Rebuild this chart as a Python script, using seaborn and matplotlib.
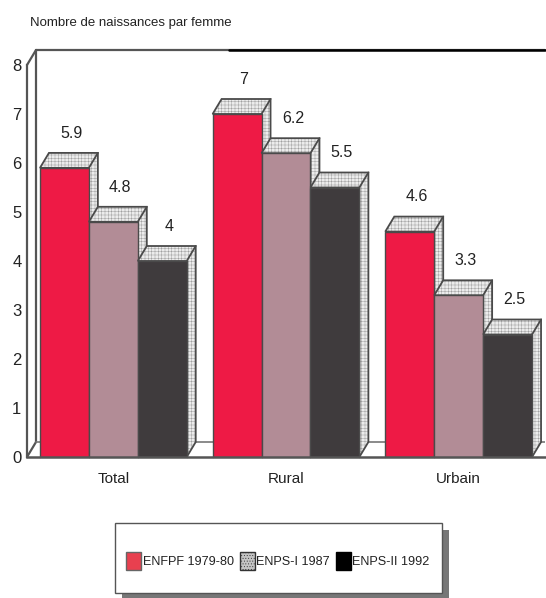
import matplotlib
matplotlib.use("Agg")
import matplotlib.pyplot as plt
from matplotlib.patches import Patch, Polygon, Rectangle
import pandas as pd
import seaborn as sns

# ========= Data =========
categories = ["Total", "Rural", "Urbain"]
surveys = ["ENFPF 1979-80", "ENPS-I 1987", "ENPS-II 1992"]
enfpf = [5.9, 7, 4.6]
enps1 = [4.8, 6.2, 3.3]
enps2 = [4, 5.5, 2.5]
value_labels = ["5.9", "4.8", "4", "7", "6.2", "5.5", "4.6", "3.3", "2.5"]
bar_colors = ["#ee1a45", "#b28c96", "#3f3b3d"]
legend_colors = ["#e8404f", "#c4c4c4", "#000000"]
y_ticks = list(range(9))

df = pd.DataFrame({
    "cat": categories * 3,
    "survey": [s for s in surveys for _ in categories],
    "val": enfpf + enps1 + enps2,
})

sns.set_style("white")
plt.rcParams["font.family"] = ["Liberation Sans", "DejaVu Sans"]
plt.rcParams["hatch.linewidth"] = 0.35

W, H = 546, 598
fig = plt.figure(figsize=(W / 100, H / 100), dpi=100)
ax = fig.add_axes([27 / W, (H - 457) / H, 518 / W, 392 / H])

sns.barplot(data=df, x="cat", y="val", hue="survey", order=categories,
            hue_order=surveys, palette=bar_colors, saturation=1,
            width=0.85, gap=0, legend=False, ax=ax)
ax.set_xlim(-0.5, 2.5)
ax.set_ylim(0, 8)
ax.set_xlabel("")
ax.set_ylabel("")
sns.despine(ax=ax, top=True, right=True)

# depth of the fake 3D effect, in data units
dx = 9 / (518 / 3)
dy = 15 / 49
edge = "#4a4a4a"
hatch_col = "#a0a0a0"

# ========= Walls =========
left = -0.5
wall = dict(color="#555555", lw=1.6, clip_on=False, zorder=1)
ax.plot([left, left + dx], [8, 8 + dy], **wall)
ax.plot([left + dx, left + dx], [dy, 8 + dy], **wall)
ax.plot([left, left + dx], [0, dy], **wall)
ax.plot([left + dx, 2.5], [8 + dy, 8 + dy], **wall)
ax.plot([0.67, 2.5], [8 + dy, 8 + dy], color="black", lw=1.8, clip_on=False, zorder=1)
ax.plot([left + dx, 2.5], [dy, dy], color="#777777", lw=1.2, zorder=1)
ax.spines["left"].set(color="#555555", linewidth=1.6)
ax.spines["bottom"].set(color="#555555", linewidth=1.8)
ax.spines["bottom"].set_zorder(60)

# ========= 3D faces and value labels =========
bars = sorted(ax.patches, key=lambda b: b.get_x())
for i, (bar, label) in enumerate(zip(bars, value_labels)):
    x0, w, h = bar.get_x(), bar.get_width(), bar.get_height()
    z = 5 + i * 3
    bar.set_zorder(z + 2)
    bar.set_edgecolor("none")
    top = Polygon([(x0, h), (x0 + dx, h + dy), (x0 + w + dx, h + dy), (x0 + w, h)],
                  facecolor="#ececec", edgecolor=hatch_col, hatch="+++++", lw=0, zorder=z, clip_on=False)
    side = Polygon([(x0 + w, 0), (x0 + w + dx, dy), (x0 + w + dx, h + dy), (x0 + w, h)],
                   facecolor="#ececec", edgecolor=hatch_col, hatch="+++++", lw=0, zorder=z, clip_on=False)
    ax.add_patch(top)
    ax.add_patch(side)
    ax.add_patch(Polygon([(x0, h), (x0 + dx, h + dy), (x0 + w + dx, h + dy), (x0 + w + dx, dy),
                          (x0 + w, 0), (x0 + w, h), (x0, h)],
                         fill=False, edgecolor=edge, lw=1.3, zorder=z + 1, clip_on=False))
    ax.plot([x0 + w, x0 + w + dx], [h, h + dy], color=edge, lw=1.3, zorder=z + 1, clip_on=False)
    ax.plot([x0, x0, x0 + w, x0 + w], [0, h, h, 0], color=edge, lw=1.0, zorder=z + 3, clip_on=False)
    ax.text(x0 + w / 2 + dx - 0.012, h + dy + 0.25, label, ha="center", va="bottom",
            fontsize=11.5, color="#222222", zorder=50)

# ========= Axes text =========
ax.set_yticks(y_ticks)
ax.tick_params(axis="y", length=0, pad=4, labelsize=12, colors="#222222")
ax.tick_params(axis="x", length=0, pad=11, labelsize=11, colors="#222222")
fig.text(30 / W, 1 - 23 / H, "Nombre de naissances par femme", fontsize=9.5,
         color="#222222", va="center", ha="left")

# ========= Legend =========
fig.add_artist(Rectangle((122 / W, 1 - 600 / H), 327 / W, 70 / H, transform=fig.transFigure,
                         facecolor="#777777", edgecolor="none", zorder=2))
fig.add_artist(Rectangle((115 / W, 1 - 593 / H), 327 / W, 70 / H, transform=fig.transFigure,
                         facecolor="white", edgecolor="#555555", lw=1.0, zorder=3))
handles = [
    Patch(facecolor=legend_colors[0], edgecolor="#666666", label=surveys[0]),
    Patch(facecolor=legend_colors[1], edgecolor="#333333", hatch="......", label=surveys[1]),
    Patch(facecolor=legend_colors[2], edgecolor="black", label=surveys[2]),
]
leg = fig.legend(handles=handles, ncol=3, loc="center",
                 bbox_to_anchor=(278 / W, 1 - 561 / H), frameon=False,
                 fontsize=9.1, handlelength=1.2, handleheight=1.7,
                 handletextpad=0.12, columnspacing=0.45, borderpad=0, borderaxespad=0)
leg.set_zorder(4)
for text in leg.get_texts():
    text.set_color("#222222")

fig.savefig("out.png", dpi=100)
